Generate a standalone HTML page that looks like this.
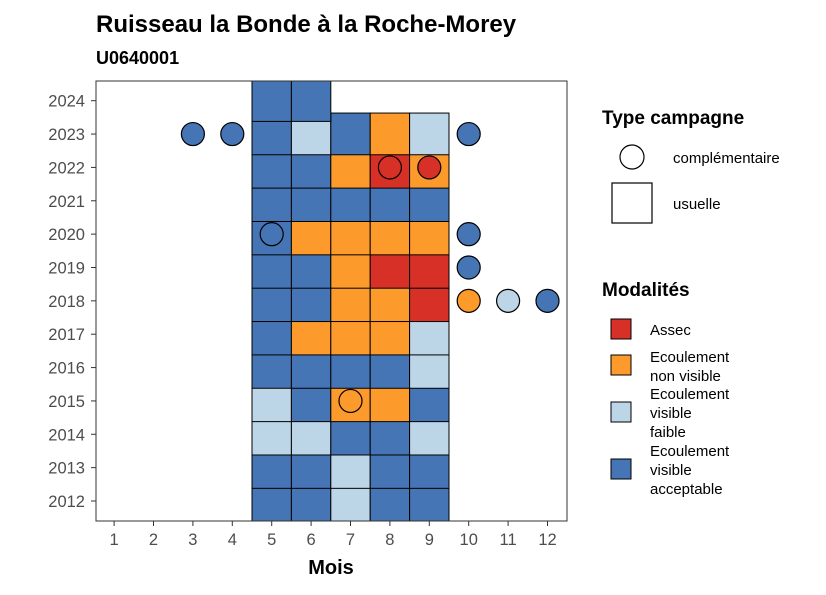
<!DOCTYPE html>
<html><head><meta charset="utf-8"><style>
body{margin:0;background:#fff;font-family:"Liberation Sans",sans-serif}
</style></head><body>
<svg id="c" width="826" height="590" xmlns="http://www.w3.org/2000/svg" font-family="Liberation Sans, sans-serif">
<defs><clipPath id="pc"><rect x="96" y="81" width="471" height="440"/></clipPath></defs>
<text x="96" y="32" font-size="24" font-weight="bold">Ruisseau la Bonde à la Roche-Morey</text>
<text x="96" y="64" font-size="18" font-weight="bold">U0640001</text>
<g id="tiles" clip-path="url(#pc)"></g><g id="pts"></g><g id="axes"></g>
<rect x="96" y="81" width="471" height="440" fill="none" stroke="#333" stroke-width="1"/>
<text x="331" y="574" font-size="20" font-weight="bold" text-anchor="middle">Mois</text>
<g>
<text x="602" y="124" font-size="19" font-weight="bold">Type campagne</text>
<circle cx="632" cy="157" r="12" fill="#fff" stroke="#000" stroke-width="1.2"/>
<text x="673" y="163" font-size="15">complémentaire</text>
<rect x="612" y="183" width="40" height="40" fill="#fff" stroke="#000" stroke-width="1.2"/>
<text x="673" y="209" font-size="15">usuelle</text>
</g>
<g font-size="15">
<text x="602" y="296" font-size="19" font-weight="bold">Modalités</text>
<rect x="611" y="319" width="20" height="20" fill="#d73027" stroke="#000"/>
<text x="650" y="335">Assec</text>
<rect x="611" y="355" width="20" height="20" fill="#fc9a2b" stroke="#000"/>
<text x="650" y="362">Ecoulement</text><text x="650" y="381">non visible</text>
<rect x="611" y="402" width="20" height="20" fill="#bcd6e7" stroke="#000"/>
<text x="650" y="399">Ecoulement</text><text x="650" y="418">visible</text><text x="650" y="437">faible</text>
<rect x="611" y="459" width="20" height="20" fill="#4575b4" stroke="#000"/>
<text x="650" y="456">Ecoulement</text><text x="650" y="475">visible</text><text x="650" y="494">acceptable</text>
</g>
</svg>
<script>
const years=[2012,2013,2014,2015,2016,2017,2018,2019,2020,2021,2022,2023,2024];
const months=[1,2,3,4,5,6,7,8,9,10,11,12];
const tileMonths=[5,6,7,8,9];
const tileYears=[2012,2013,2014,2015,2016,2017,2018,2019,2020,2021,2022,2023,2024];
const tileVals=[
"BBLBB","BBLBB","LLBBL","LBOOB","BBBBL","BOOOL","BBOOA","BBOAA","BOOOO","BBBBB","BBOAO","BLBOL","BB---"];
const ptYears=[2023,2023,2023,2022,2022,2020,2020,2019,2018,2018,2018,2015];
const ptMonths=[3,4,10,8,9,5,10,10,10,11,12,7];
const ptVals=["B","B","B","A","A","B","B","B","O","L","B","O"];
const col={A:"#d73027",O:"#fc9a2b",L:"#bcd6e7",B:"#4575b4"};
const x=m=>252+(m-4.5)*39.4;
const dy=(501-100.7)/12;
const y=yr=>501-(yr-2012)*dy;
const NS="http://www.w3.org/2000/svg";
function mk(t,p,a){const e=document.createElementNS(NS,t);for(const k in a)e.setAttribute(k,a[k]);p.appendChild(e);return e;}
const tg=document.getElementById('tiles'),pg=document.getElementById('pts'),ag=document.getElementById('axes');
tileYears.forEach((yr,i)=>{tileMonths.forEach((m,j)=>{const v=tileVals[i][j];if(v==='-')return;
const r=mk('rect',tg,{x:x(m-0.5),y:y(yr)-21,width:39.4,height:41.7,fill:col[v],stroke:'#000','stroke-width':1});

});});
ptYears.forEach((yr,i)=>{const c=mk('circle',pg,{cx:x(ptMonths[i]),cy:y(yr),r:11.5,fill:col[ptVals[i]],stroke:'#000','stroke-width':1.2});

});
months.forEach(m=>{mk('line',ag,{x1:x(m),x2:x(m),y1:521,y2:526,stroke:'#333'});
const t=mk('text',ag,{x:x(m),y:545,'font-size':16.5,fill:'#4d4d4d','text-anchor':'middle'});t.textContent=m;

});
years.forEach(yr=>{mk('line',ag,{x1:91,x2:96,y1:y(yr),y2:y(yr),stroke:'#333'});
const t=mk('text',ag,{x:85,y:y(yr)+6,'font-size':16.5,fill:'#4d4d4d','text-anchor':'end'});t.textContent=yr;

});
</script>
</body></html>
